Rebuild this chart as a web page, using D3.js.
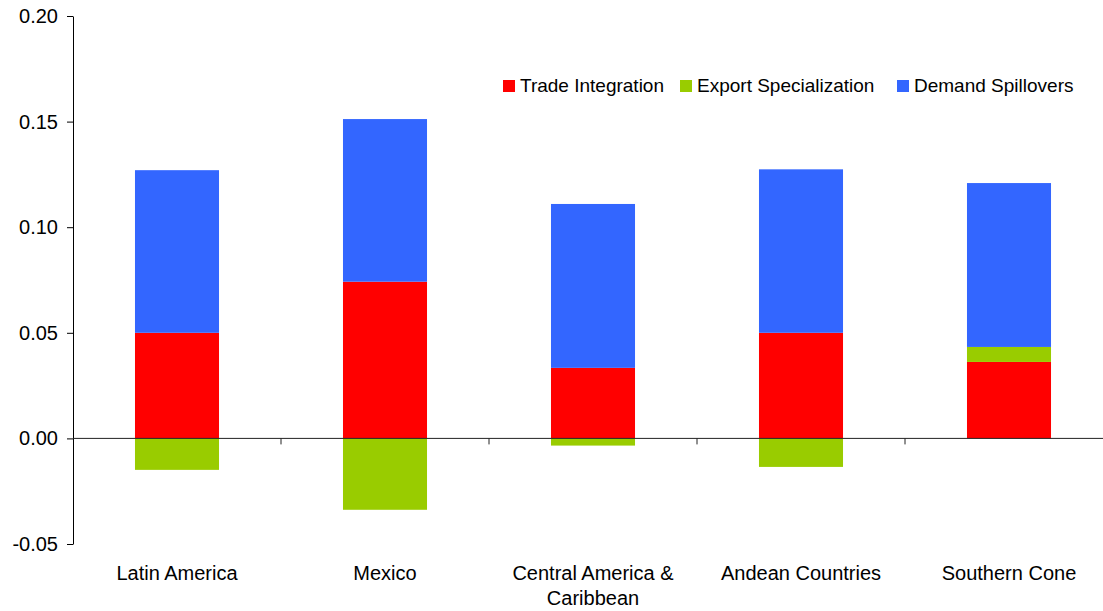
<!DOCTYPE html>
<html>
<head>
<meta charset="utf-8">
<script src="https://cdn.jsdelivr.net/npm/d3@7"></script>
<style>
  body { margin: 0; background: #fff; }
  svg { display: block; font-family: "Liberation Sans", Arial, sans-serif; }
</style>
</head>
<body>
<svg id="chart" width="1103" height="611"></svg>
<script>
// Regional contributions, by component
const categories = ["Latin America", "Mexico", "Central America & Caribbean", "Andean Countries", "Southern Cone"];
const categoryLines = [["Latin America"], ["Mexico"], ["Central America &", "Caribbean"], ["Andean Countries"], ["Southern Cone"]];
const seriesNames = ["Trade Integration", "Export Specialization", "Demand Spillovers"];
const tradeIntegration = [0.0500, 0.0742, 0.0334, 0.0500, 0.0362];
const exportSpecialization = [-0.0149, -0.0338, -0.0034, -0.0135, 0.0071];
const demandSpillovers = [0.0770, 0.0770, 0.0776, 0.0774, 0.0776];
const yTicks = [-0.05, 0.00, 0.05, 0.10, 0.15, 0.20];
const colors = ["#ff0000", "#99cc00", "#3366ff"];

const svg = d3.select("#chart");
const margin = { left: 73, top: 16 };
const plotW = 1040, plotBottom = 544;

const rows = categories.map((c, i) => ({
  category: c,
  "Trade Integration": tradeIntegration[i],
  "Export Specialization": exportSpecialization[i],
  "Demand Spillovers": demandSpillovers[i]
}));

const x = d3.scaleBand().domain(categories).range([margin.left, margin.left + plotW]).paddingInner(0.596).paddingOuter(0.298);
const y = d3.scaleLinear().domain([-0.05, 0.20]).range([plotBottom, margin.top]);

const stacked = d3.stack().keys(seriesNames).offset(d3.stackOffsetDiverging)(rows);

svg.append("g").selectAll("g")
  .data(stacked)
  .join("g")
  .attr("fill", (d, i) => colors[i])
  .selectAll("rect")
  .data(d => d)
  .join("rect")
  .attr("x", d => x(d.data.category))
  .attr("width", x.bandwidth())
  .attr("y", d => y(Math.max(d[0], d[1])))
  .attr("height", d => Math.abs(y(d[0]) - y(d[1])));

// Y axis
const yAxis = svg.append("g")
  .attr("transform", `translate(${margin.left},0)`)
  .call(d3.axisLeft(y).tickValues(yTicks).tickSize(6).tickSizeOuter(0).tickPadding(9)
    .tickFormat(d => d < 0 ? "-" + Math.abs(d).toFixed(2) : d.toFixed(2)));
yAxis.select(".domain").attr("stroke", "#000");
yAxis.selectAll(".tick line").attr("stroke", "#000");
yAxis.selectAll("text").attr("font-size", 20).attr("fill", "#000");

// Zero line with category separators
const zeroY = y(0);
const step = x.step();
const zero = svg.append("g");
zero.append("line")
  .attr("x1", margin.left).attr("x2", 1103)
  .attr("y1", zeroY).attr("y2", zeroY)
  .attr("stroke", "#222").attr("stroke-width", 1);
zero.selectAll("line.sep")
  .data(categories.slice(1))
  .join("line")
  .attr("class", "sep")
  .attr("x1", c => x(c) + x.bandwidth() / 2 - step / 2)
  .attr("x2", c => x(c) + x.bandwidth() / 2 - step / 2)
  .attr("y1", zeroY).attr("y2", zeroY + 6)
  .attr("stroke", "#222");

// Category labels
const labels = svg.append("g").selectAll("text")
  .data(categories)
  .join("text")
  .attr("text-anchor", "middle")
  .attr("font-size", 20)
  .attr("fill", "#000")
  .attr("x", c => x(c) + x.bandwidth() / 2)
  .attr("y", 580);
labels.selectAll("tspan")
  .data((c, i) => categoryLines[i])
  .join("tspan")
  .attr("x", function () { return d3.select(this.parentNode).attr("x"); })
  .attr("dy", (d, i) => i === 0 ? 0 : 25)
  .text(d => d);

// Legend
const legendX = [503, 680, 897];
const legend = svg.append("g").selectAll("g")
  .data(seriesNames)
  .join("g")
  .attr("transform", (d, i) => `translate(${legendX[i]},80)`);
legend.append("rect").attr("width", 12).attr("height", 12).attr("fill", (d, i) => colors[i]);
legend.append("text").attr("x", 17).attr("y", 12).attr("font-size", 19).attr("fill", "#000").text(d => d);
</script>
</body>
</html>
